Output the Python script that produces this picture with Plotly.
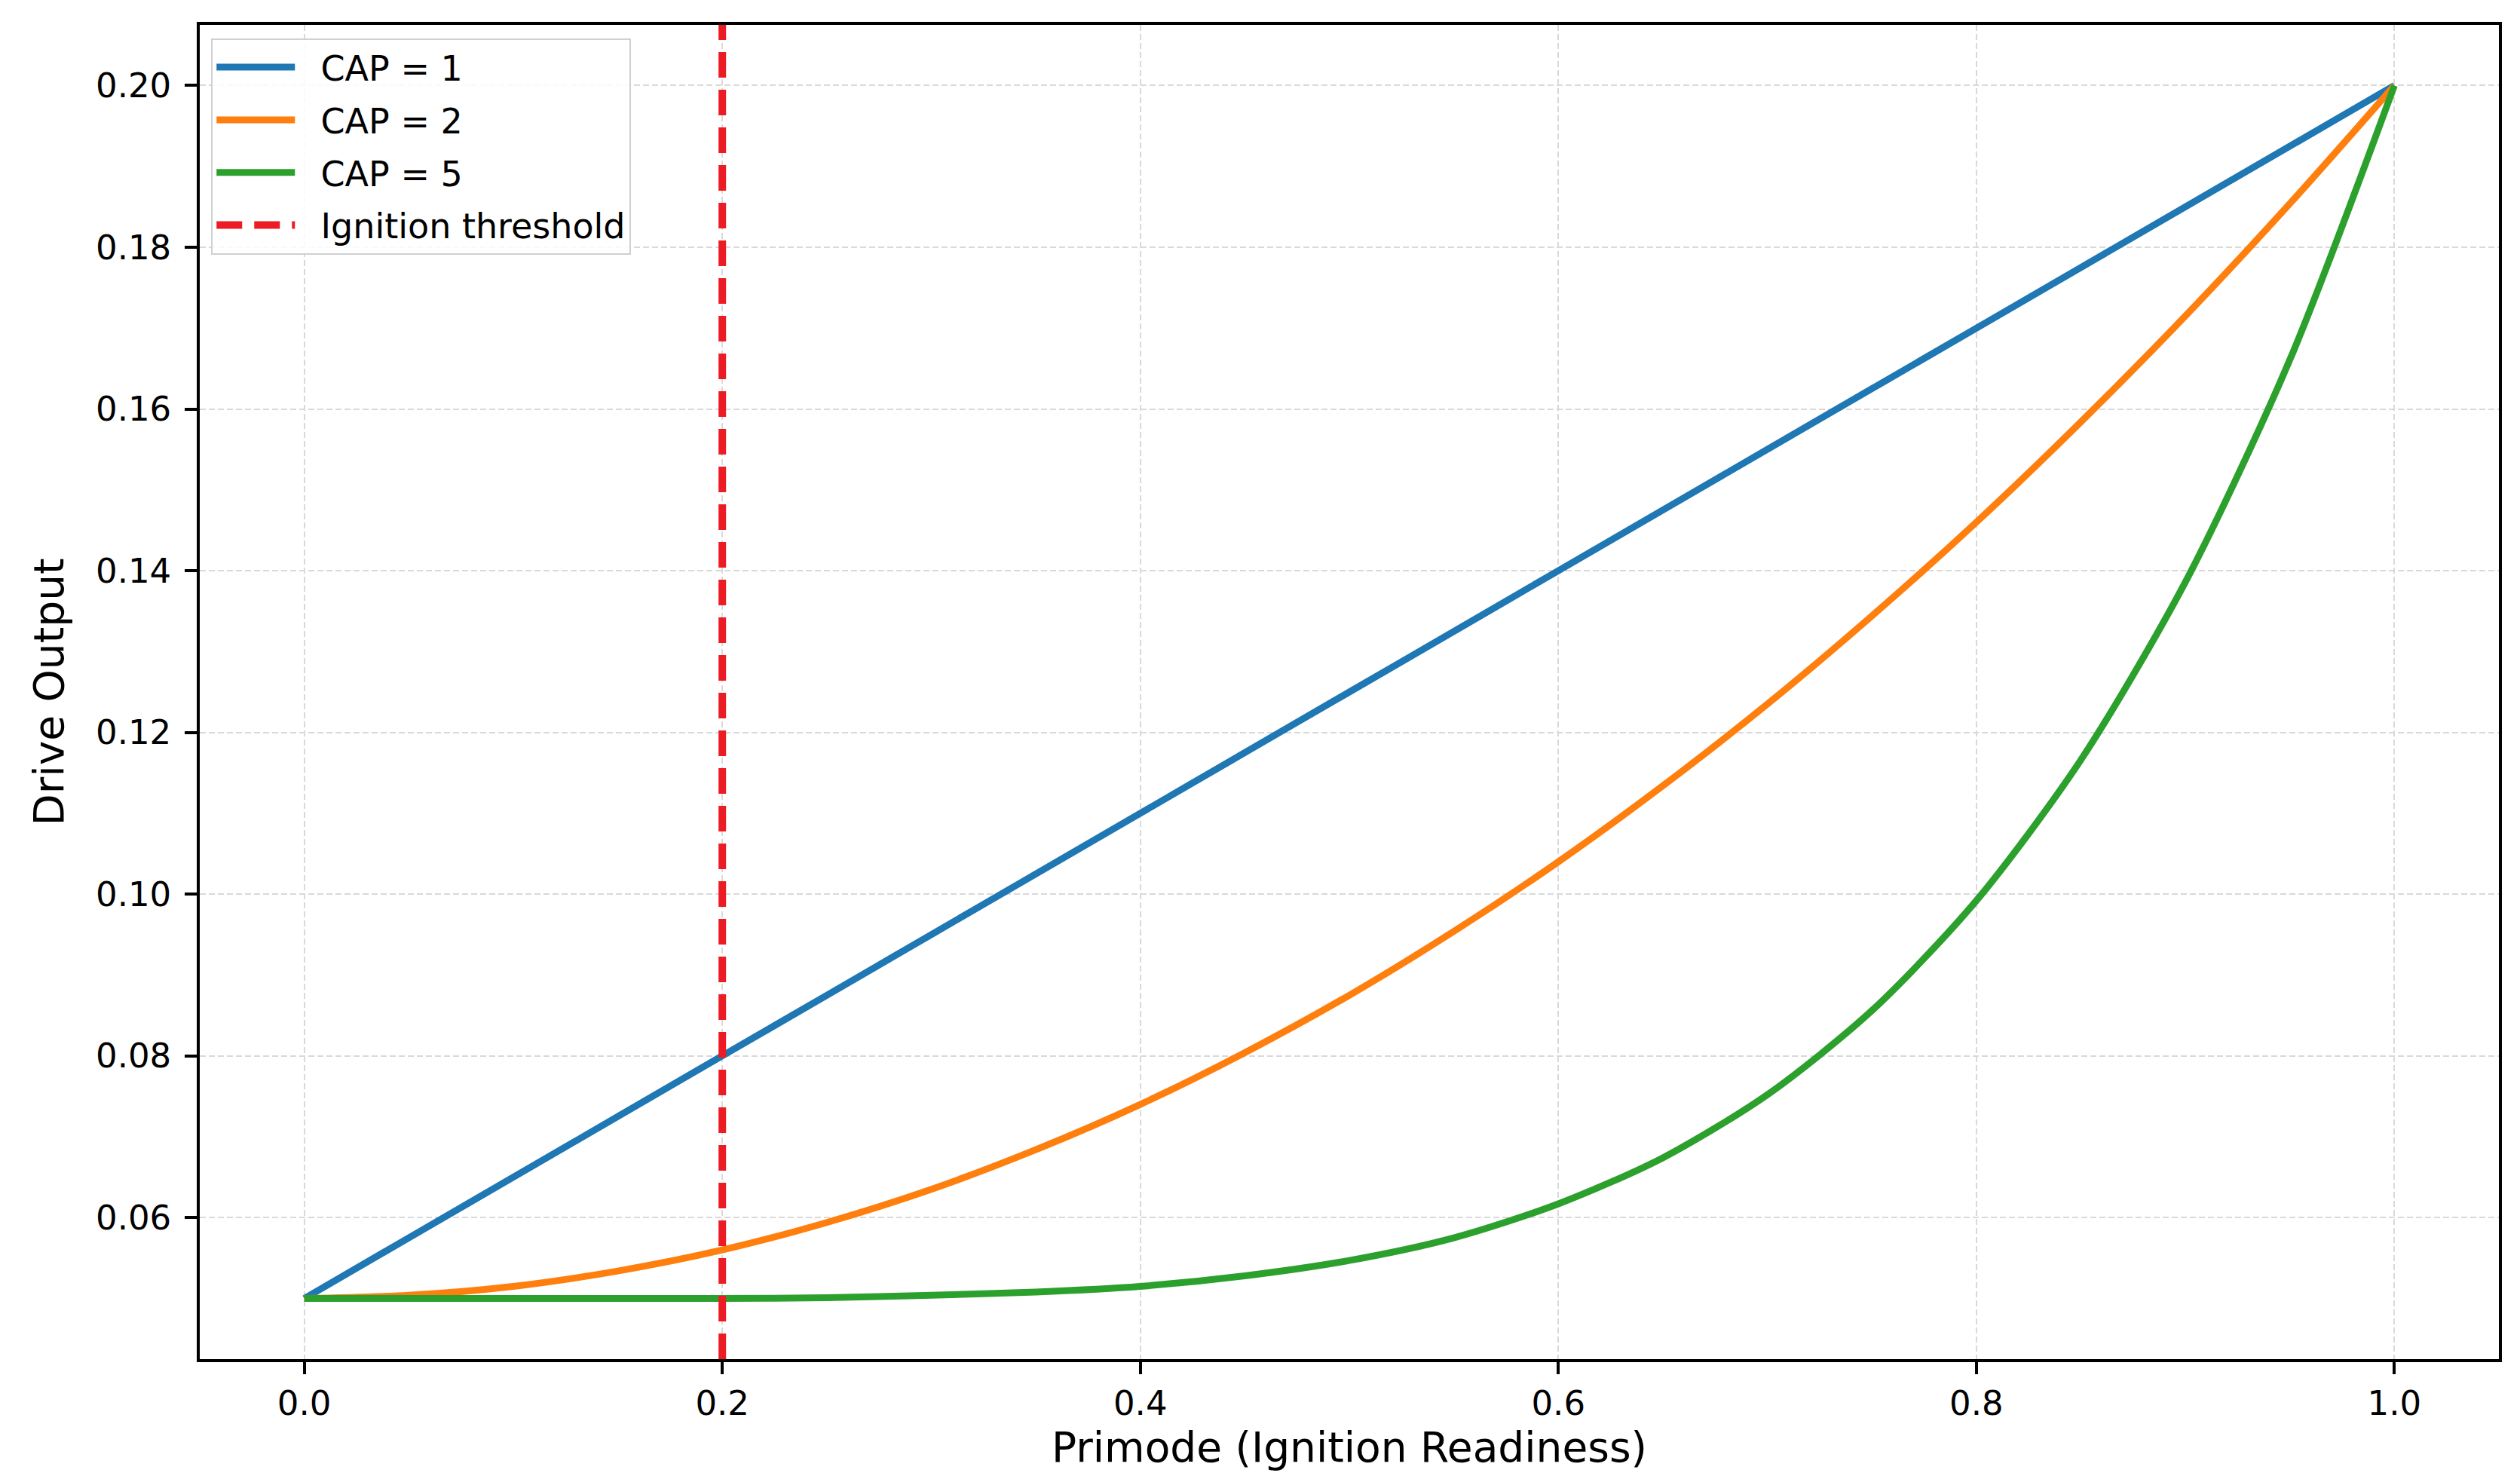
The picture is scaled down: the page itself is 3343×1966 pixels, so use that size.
import plotly.graph_objects as go

# primode values (step 0.05)
primode = [0.00, 0.05, 0.10, 0.15, 0.20, 0.25, 0.30, 0.35, 0.40, 0.45, 0.50,
           0.55, 0.60, 0.65, 0.70, 0.75, 0.80, 0.85, 0.90, 0.95, 1.00]

# drive output for each CAP
drive_cap1 = [0.0500, 0.0575, 0.0650, 0.0725, 0.0800, 0.0875, 0.0950, 0.1025, 0.1100, 0.1175, 0.1250,
              0.1325, 0.1400, 0.1475, 0.1550, 0.1625, 0.1700, 0.1775, 0.1850, 0.1925, 0.2000]
drive_cap2 = [0.0500, 0.0504, 0.0515, 0.0534, 0.0560, 0.0594, 0.0635, 0.0684, 0.0740, 0.0804, 0.0875,
              0.0954, 0.1040, 0.1134, 0.1235, 0.1344, 0.1460, 0.1584, 0.1715, 0.1854, 0.2000]
drive_cap5 = [0.0500, 0.0500, 0.0500, 0.0500, 0.0500, 0.0501, 0.0504, 0.0508, 0.0515, 0.0528, 0.0547,
              0.0575, 0.0617, 0.0674, 0.0752, 0.0856, 0.0992, 0.1166, 0.1386, 0.1661, 0.2000]

series_names = ["CAP = 1", "CAP = 2", "CAP = 5"]
threshold_name = "Ignition threshold"
ignition_threshold = 0.2

colors = ['#1f77b4', '#ff7f0e', '#2ca02c']
font_family = "DejaVu Sans"
gap = '\u00a0\u00a0'  # space between legend handle and its label

fig = go.Figure()

for name, vals, col in zip(series_names, [drive_cap1, drive_cap2, drive_cap5], colors):
    fig.add_trace(go.Scatter(x=primode, y=vals, mode='lines', name=gap + name, legendgroup=name,
                             line=dict(color=col, width=9, shape='spline', smoothing=0.8)))

# threshold line, shown in the legend as a shape entry
fig.add_vline(x=ignition_threshold, line=dict(color='#ec1c24', width=10, dash='34px,16px'),
              showlegend=True, name=gap + threshold_name, legendgroup="thr", layer='above')

axis_common = dict(
    showline=True, mirror=True, linecolor='black', linewidth=3.5,
    ticks='outside', ticklen=16, tickwidth=3.5, tickcolor='black',
    showgrid=True, gridcolor='#d9d9d9', gridwidth=2, griddash='8px,4px',
    zeroline=False, tickfont=dict(size=45, color='black', family=font_family),
)

fig.update_layout(
    width=3343, height=1966,
    margin=dict(l=257, r=36, t=25, b=171),
    paper_bgcolor='white', plot_bgcolor='white',
    font=dict(family=font_family, color='black'),
    xaxis=dict(range=[-0.05, 1.05], tick0=0, dtick=0.2, tickformat='.1f', ticklabelstandoff=0,
               title=dict(text="Primode (Ignition Readiness)", font=dict(size=55), standoff=12),
               **axis_common),
    yaxis=dict(range=[0.0425, 0.2075], tick0=0.06, dtick=0.02, tickformat='.2f', ticklabelstandoff=9,
               title=dict(text="Drive Output", font=dict(size=55), standoff=26),
               **axis_common),
    legend=dict(x=0.005, y=0.99, xanchor='left', yanchor='top',
                bgcolor='rgba(255,255,255,0.85)', bordercolor='#d0d0d0', borderwidth=2,
                font=dict(size=46, family=font_family), itemwidth=104, tracegroupgap=7),
    showlegend=True,
)

fig.write_html("out.html")
